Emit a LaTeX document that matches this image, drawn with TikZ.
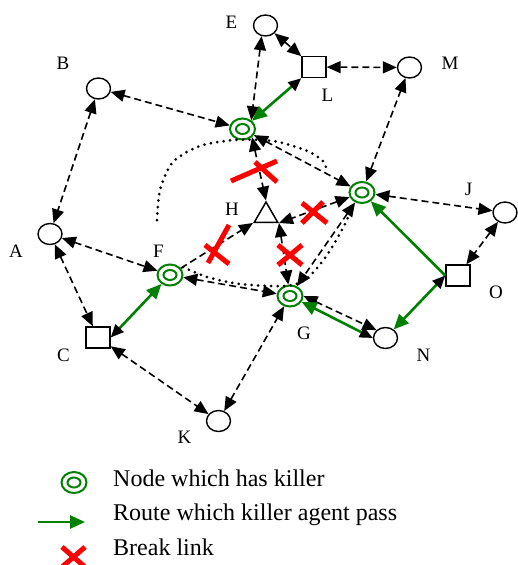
\documentclass[tikz,border=0pt]{standalone}
\usepackage{fontspec}
\setmainfont{Liberation Serif}
\usetikzlibrary{arrows.meta,shapes.geometric}
\definecolor{kgreen}{RGB}{0,128,0}
\definecolor{brkred}{RGB}{255,0,0}
\tikzset{
  host/.style={ellipse,draw,line width=1.4pt,inner sep=0pt,minimum width=24pt,minimum height=21pt},
  gate/.style={rectangle,draw,line width=1.4pt,inner sep=0pt,minimum width=24pt,minimum height=21pt},
  killer/.style={ellipse,draw=kgreen,line width=2pt,inner sep=0pt,minimum width=25pt,minimum height=21pt,
    path picture={\draw[kgreen,line width=2pt] (path picture bounding box.center) ellipse (6.5pt and 5pt);}},
  sink/.style={regular polygon,regular polygon sides=3,draw,line width=1.5pt,inner sep=0pt,minimum size=27pt},
  lbl/.style={inner sep=0pt,font=\fontsize{19}{22}\selectfont},
  key/.style={inner sep=0pt,font=\fontsize{24}{28}\selectfont},
  dart/.tip={Triangle[length=14pt,width=12pt]},
  link/.style={line width=1.6pt,dash pattern=on 7pt off 4pt,dart-dart},
  hop/.style={line width=1.6pt,dash pattern=on 7pt off 4pt,-dart},
  groute/.style={kgreen,line width=2.6pt,-{Triangle[length=15pt,width=13pt]}},
  route/.style={groute,{Triangle[color=black,length=13pt,width=11pt]}-{Triangle[length=15pt,width=13pt]}},
  brk/.style={brkred,line width=5pt},
  reach/.style={line width=3pt,line cap=round,dash pattern=on 0pt off 6.5pt}
}
\begin{document}
\begin{tikzpicture}[x=1pt,y=-1pt]
\useasboundingbox (0,0) rectangle (517,565);

\node[host] (E) at (265.5,25.5) {};
\node[gate] (L) at (314,67) {};
\node[host] (M) at (409.5,67.5) {};
\node[host] (B) at (98.5,88.5) {};
\node[killer] (Ktop) at (242.5,129) {};
\node[killer] (Kright) at (362,192.5) {};
\node[host] (J) at (505,212.5) {};
\node[sink] (H) at (266,215.5) {};
\node[host] (A) at (50,234) {};
\node[killer] (F) at (170,275) {};
\node[gate] (O) at (458,275.5) {};
\node[killer] (G) at (290,296) {};
\node[gate] (C) at (98,337.5) {};
\node[host] (N) at (385.5,338) {};
\node[host] (K) at (218.5,421) {};

\node[lbl] (tE) at (231.5,22.5) {E};
\node[lbl] (tB) at (63,63) {B};
\node[lbl] (tM) at (450,63) {M};
\node[lbl] (tL) at (327.5,95) {L};
\node[lbl] (tJ) at (468.5,189) {J};
\node[lbl] (tH) at (232,209) {H};
\node[lbl] (tA) at (16,251) {A};
\node[lbl] (tF) at (158.5,251) {F};
\node[lbl] (tO) at (496,292) {O};
\node[lbl] (tG) at (304,333.5) {G};
\node[lbl] (tC) at (63.5,355) {C};
\node[lbl] (tN) at (423.5,355) {N};
\node[lbl] (tK) at (184.5,437) {K};

\draw[reach] plot[smooth] coordinates {(157,220) (160,190) (173,162) (200,146) (235,140) (273,141) (305,150) (322,160) (326,167)};
\draw[reach] plot[smooth] coordinates {(183,267) (207,277) (240,284) (283,286) (305,280) (325,258) (343,228) (352,208)};

\draw[link] (E.250) -- (Ktop.45);
\draw[link] (E) -- (L);
\draw[link] (L) -- (M);
\draw[link] (B) -- (Ktop);
\draw[link] (B) -- (A);
\draw[link] (A) -- (F);
\draw[link] (A) -- (C);
\draw[link] (C) -- (K);
\draw[link] (K) -- (G);
\draw[link] (F) -- (G);
\draw[hop] (F) -- (H.corner 2);
\draw[link] (Ktop.south east) -- (H.corner 1);
\draw[link] (Kright) -- (H.corner 3);
\draw[link] (H.corner 3) -- (G);
\draw[link] (Ktop) -- (Kright);
\draw[link] (Kright) -- (G);
\draw[link] (Kright) -- (M);
\draw[link] (Kright) -- (J);
\draw[link] (J) -- (O);
\draw[link] (G.east) -- (N.north west);

\draw[route] (L.south west) -- (Ktop);
\draw[route] (C.east) -- (F);
\draw[route] (N.west) -- (G);
\draw[route] (O.west) -- (N);
\draw[groute] (O.west) -- (Kright);

\draw[brk] (231,181) -- (277,161) (255,162) -- (277,182);
\draw[brk] (229,225) -- (208,263) (205,245) -- (229,264);
\draw[brk] (302,203) -- (327,223) (323,202) -- (302,223);
\draw[brk] (278,245) -- (302,265) (302,245) -- (278,265);

\node[killer] (keyK) at (74,482.5) {};
\coordinate (keyA) at (38,522);
\coordinate (keyB) at (85,522);
\draw[groute] (keyA) -- (keyB);
\draw[brk] (62,547) -- (85,567) (85,547) -- (62,567);
\node[key,anchor=base west] (keyT1) at (113,486) {Node which has killer};
\node[key,anchor=base west] (keyT2) at (113,520) {Route which killer agent pass};
\node[key,anchor=base west] (keyT3) at (113,555) {Break link};
\end{tikzpicture}
\end{document}
